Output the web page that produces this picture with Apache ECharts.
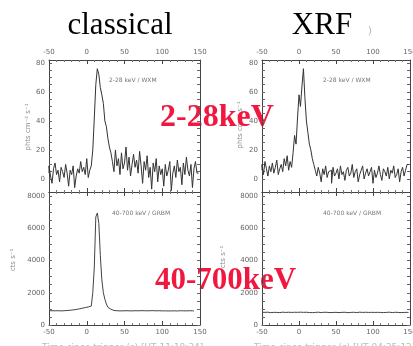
<!DOCTYPE html>
<html>
<head>
<meta charset="utf-8">
<script src="https://cdn.jsdelivr.net/npm/echarts@6/dist/echarts.min.js"></script>
<style>
  html, body { margin: 0; padding: 0; background: #fff; }
  #chart { width: 413px; height: 346px; }
</style>
</head>
<body>
<div id="chart"></div>
<script>
// Light curves in 2 s bins starting at t = -50 s
const binStart = -50;
const binWidth = 2;

// WXM 2-28 keV, classical burst (photons cm^-2 s^-1)
const classicalWxm = [
  4, 9, 2, -3, 7, 11, 3, 6, -2, 8, 5, 1, 10, 4, -5, 6, 3, 9, -6, 2, 7, 4, 12, 5, 8,
  3, 14, 1, 6, 9,
  20, 42, 65, 76, 72, 63, 58, 52, 40, 36, 28, 22, 18,
  12, 5, 20, 9, 14, 3, 18, 7, 11, 22, 6, 15, 2, 10, 17, 8, 13, 4, 19, 9,
  -3, 12, 6, 16, 1, 8, -7, 11, 5, 14, -2, 9, 3, 7, -5, 10, 2, 6, 12, -8,
  4, 9, 1, 13, 5, 8, -4, 11, 3, 15, 6, 2, 10, -6, 7, 12, 4
];

// GRBM 40-700 keV, classical burst (counts s^-1)
const classicalGrbm = [
  880, 870, 885, 875, 880, 870, 885, 890, 875, 880, 885, 895, 900, 905, 915, 925, 935, 950, 965, 985, 1000, 1020, 1040, 1060, 1080,
  1100, 1120, 1140, 1170, 1200,
  2000, 3600, 6700, 6950, 6300, 4300, 2800, 2000, 1600, 1300, 1100, 980, 920,
  900, 890, 885, 880, 875, 885, 880, 870, 885, 875, 880, 890, 875, 880, 885, 870, 880, 875, 890,
  880, 885, 870, 880, 875, 885, 880, 890, 875, 880, 870, 885, 880, 875, 890, 880, 885, 870, 880,
  875, 885, 880, 890, 870, 880, 885, 875, 880, 890, 875, 880, 885, 870, 880, 875
];

// WXM 2-28 keV, XRF
const xrfWxm = [
  6, 10, 3, 12, 7, 2, 9, 5, 11, 4, 8, 13, 3, 7, 10,
  5, 14, 9, 16, 6, 12, 8,
  18, 30, 24, 42, 58, 50, 64, 76, 56, 40, 32, 24, 20, 14,
  10, 6, 2, 8, 4, -2, 7, 3, 9, 1, 5, 6, -3, 8, 2, 4, 7, 0, 9, 3,
  5, -1, 6, 8, 2, 4, 10, 1, 5, 7, -2, 3, 6, 9, 0, 4, 7, 2, 5, 8,
  -3, 6, 1, 4, 9, 3, -1, 7, 5, 2, 8, 0, 6, 4, 9, 1, 3, 7, -2, 5, 8, 2, 6, 10
];

// GRBM 40-700 keV, XRF (no detection)
const xrfGrbm = [
  790, 775, 785, 770, 795, 780, 765, 790, 785, 775, 780, 790, 770, 785, 795, 775, 780, 765, 790, 785,
  780, 775, 790, 770, 785, 780, 795, 775, 785, 770, 790, 780, 775, 785, 765, 790, 780, 775, 795, 785,
  770, 780, 790, 775, 785, 780, 770, 795, 780, 775, 785, 790, 770, 780, 785, 775, 790, 780, 765, 785,
  780, 775, 790, 785, 770, 780, 795, 775, 780, 785, 790, 770, 780, 775, 785, 790, 780, 765, 785, 775,
  780, 790, 770, 785, 780, 775, 795, 780, 770, 785, 790, 775, 780, 785, 770, 790, 780, 775, 785, 780
];

const wxmTicks = [0, 20, 40, 60, 80];
const grbmTicks = [0, 2000, 4000, 6000, 8000];
const panelTitles = ['classical', 'XRF'];
const bandLabels = ['2-28keV', '40-700keV'];
const wxmNote = '2-28 keV / WXM';
const grbmNote = '40-700 keV / GRBM';

function toPairs(values) {
  return values.map((v, i) => [binStart + i * binWidth, v]);
}

const frameColor = '#444';
const labelColor = '#666';
const labelFont = 'DejaVu Sans';

function steps(lo, hi, d) {
  const out = [];
  for (let v = lo; v <= hi; v += d) out.push(v);
  return out;
}

function xAxisDef(gridIndex, position, showLabel) {
  return {
    type: 'value', gridIndex, position,
    min: -50, max: 150, interval: 50,
    axisLine: { show: true, onZero: false, lineStyle: { color: frameColor, width: 1 } },
    axisTick: { show: true, inside: true, length: 4, lineStyle: { color: frameColor } },
    minorTick: { show: true, splitNumber: 5, length: 2, lineStyle: { color: '#777' } },
    axisLabel: { show: showLabel, fontSize: 7, color: labelColor, fontFamily: labelFont, margin: 4,
                 formatter: v => String(v) },
    splitLine: { show: false }
  };
}

function yAxisDef(gridIndex, position, range, labels, minorStep, showLabel) {
  return {
    type: 'value', gridIndex, position,
    min: range[0], max: range[1],
    axisLine: { show: true, onZero: false, lineStyle: { color: frameColor, width: 1 } },
    axisTick: { show: true, inside: true, length: 3, customValues: steps(0, range[1], minorStep), lineStyle: { color: '#666' } },
    axisLabel: { show: showLabel, customValues: labels, fontSize: 7, color: labelColor, fontFamily: labelFont, margin: 4,
                 formatter: v => String(v) },
    splitLine: { show: false }
  };
}

const wxmRange = [-9, 82];
const grbmRange = [0, 8250];

const grids = [
  { left: 49, width: 151, top: 60, height: 132 },
  { left: 49, width: 151, top: 192, height: 133 },
  { left: 262, width: 148, top: 60, height: 132 },
  { left: 262, width: 148, top: 192, height: 133 }
].map(g => Object.assign({ containLabel: false, outerBoundsMode: 'none' }, g));

const xAxes = [
  xAxisDef(0, 'bottom', false), xAxisDef(0, 'top', true),
  xAxisDef(1, 'bottom', true),  xAxisDef(1, 'top', false),
  xAxisDef(2, 'bottom', false), xAxisDef(2, 'top', true),
  xAxisDef(3, 'bottom', true),  xAxisDef(3, 'top', false)
];

const yAxes = [
  yAxisDef(0, 'left', wxmRange, wxmTicks, 5, true),  yAxisDef(0, 'right', wxmRange, wxmTicks, 5, false),
  yAxisDef(1, 'left', grbmRange, grbmTicks, 500, true), yAxisDef(1, 'right', grbmRange, grbmTicks, 500, false),
  yAxisDef(2, 'left', wxmRange, wxmTicks, 5, true),  yAxisDef(2, 'right', wxmRange, wxmTicks, 5, false),
  yAxisDef(3, 'left', grbmRange, grbmTicks, 500, true), yAxisDef(3, 'right', grbmRange, grbmTicks, 500, false)
];

function curve(values, xIdx, yIdx, color) {
  return {
    type: 'line', step: 'start', xAxisIndex: xIdx, yAxisIndex: yIdx,
    data: toPairs(values), showSymbol: false, silent: true, clip: true,
    lineStyle: { color, width: 1 }
  };
}

const series = [
  curve(classicalWxm, 0, 0, '#333'),
  curve(classicalGrbm, 2, 2, '#444'),
  curve(xrfWxm, 4, 4, '#333'),
  curve(xrfGrbm, 6, 6, '#444')
];

function txt(x, y, text, style, extra) {
  return Object.assign({ type: 'text', x, y, silent: true, style: Object.assign({ text }, style) }, extra || {});
}

const titleStyle = { font: '31px "Liberation Serif"', fill: '#000', align: 'center', verticalAlign: 'middle' };
const bandStyle = { fill: '#f01840', align: 'left', verticalAlign: 'middle' };
const noteStyle = { font: '6px "DejaVu Sans"', fill: '#777', align: 'left', verticalAlign: 'middle' };
const nameStyle = { font: '7px "DejaVu Sans"', fill: '#888', align: 'center', verticalAlign: 'middle' };
const captionStyle = { font: '9px "DejaVu Sans"', fill: '#bbb', align: 'left', verticalAlign: 'middle' };

const graphics = [
  txt(120, 26, panelTitles[0], titleStyle),
  txt(322, 26, panelTitles[1], titleStyle),
  txt(370, 31, ')', { font: '11px "DejaVu Sans"', fill: '#bbb', align: 'center', verticalAlign: 'middle' }),
  txt(109, 80, wxmNote, noteStyle),
  txt(112, 213, grbmNote, noteStyle),
  txt(323, 80, wxmNote, noteStyle),
  txt(323, 213, grbmNote, noteStyle),
  txt(28, 127, 'phts cm⁻² s⁻¹', nameStyle, { rotation: Math.PI / 2 }),
  txt(13, 260, 'cts s⁻¹', nameStyle, { rotation: Math.PI / 2 }),
  txt(240, 125, 'phts cm⁻² s⁻¹', nameStyle, { rotation: Math.PI / 2 }),
  txt(223, 257, 'cts s⁻¹', nameStyle, { rotation: Math.PI / 2 }),
  txt(42, 348, 'Time since trigger (s) [UT 11:18:34]', captionStyle),
  txt(254, 348, 'Time since trigger (s) [UT 04:25:12]', captionStyle),
  txt(160, 118, bandLabels[0], Object.assign({ font: 'bold 32px "Liberation Serif"' }, bandStyle)),
  txt(155, 281, bandLabels[1], Object.assign({ font: 'bold 31px "Liberation Serif"' }, bandStyle))
];

const chart = echarts.init(document.getElementById('chart'), null, { renderer: 'canvas' });
chart.setOption({
  animation: false,
  backgroundColor: '#fff',
  grid: grids,
  xAxis: xAxes,
  yAxis: yAxes,
  series,
  graphic: { elements: graphics }
});
</script>
</body>
</html>
